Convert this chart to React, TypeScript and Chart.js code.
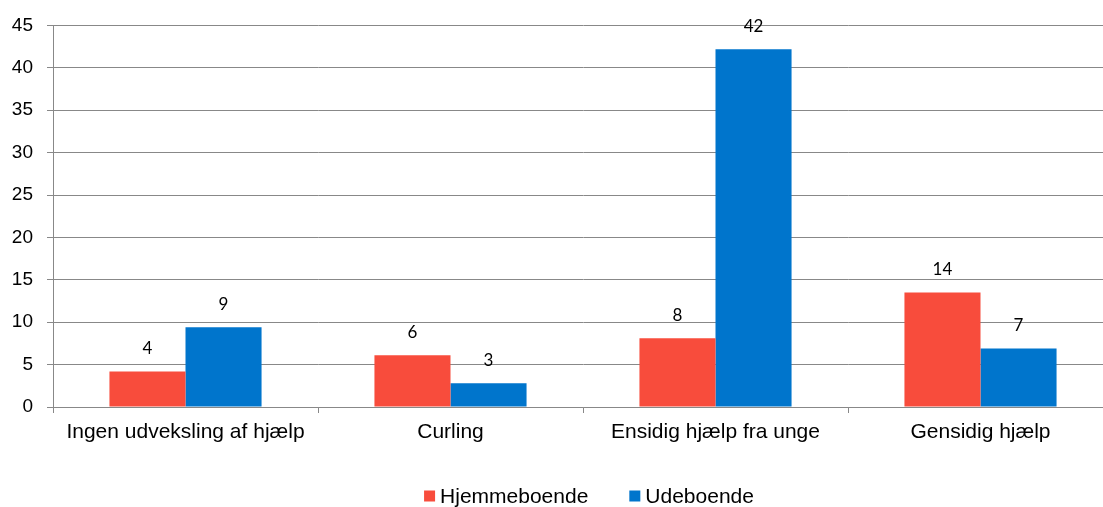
import React, { useEffect, useRef } from "react";
import { Chart, registerables } from "chart.js";

Chart.register(...registerables);

const categories = [
  "Ingen udveksling af hjælp",
  "Curling",
  "Ensidig hjælp fra unge",
  "Gensidig hjælp",
];
const seriesNames = ["Hjemmeboende", "Udeboende"];
const hjemmeboende = [4.2, 6.1, 8.1, 13.5];
const udeboende = [9.4, 2.8, 42.2, 6.9];
const seriesColors = ["#F84C3C", "#0075CC"];
const yMin = 0;
const yMax = 45;
const yStep = 5;

const CANVAS_W = 1113;
const CANVAS_H = 507;

const valueLabelPlugin = {
  id: "valueLabels",
  afterDatasetsDraw(chart: any) {
    const ctx = chart.ctx;
    ctx.save();
    ctx.font = "17px Lato, 'Open Sans', sans-serif";
    ctx.fillStyle = "#000";
    ctx.textAlign = "center";
    ctx.textBaseline = "middle";
    chart.data.datasets.forEach((ds: any, di: number) => {
      const meta = chart.getDatasetMeta(di);
      meta.data.forEach((bar: any, i: number) => {
        const v = ds.data[i];
        ctx.fillText(String(Math.round(v)), bar.x, bar.y - 23);
      });
    });
    ctx.restore();
  },
};

const legendPlugin = {
  id: "customLegend",
  afterDraw(chart: any) {
    const ctx = chart.ctx;
    ctx.save();
    ctx.font = "21px 'Liberation Sans', Arial, sans-serif";
    ctx.textBaseline = "middle";
    ctx.textAlign = "left";
    const box = 11;
    const gapBoxText = 5;
    const gapItems = 41;
    const items = chart.data.datasets.map((ds: any) => ({
      label: ds.label,
      color: ds.backgroundColor,
      w: ctx.measureText(ds.label).width,
    }));
    const total =
      items.reduce((s: number, it: any) => s + box + gapBoxText + it.w, 0) +
      gapItems * (items.length - 1);
    const cx = (chart.chartArea.left + chart.chartArea.right) / 2 + 6;
    let x = cx - total / 2;
    const y = 496;
    items.forEach((it: any) => {
      ctx.fillStyle = it.color;
      ctx.fillRect(x, y - box / 2, box, box);
      x += box + gapBoxText;
      ctx.fillStyle = "#000";
      ctx.fillText(it.label, x, y + 1);
      x += it.w + gapItems;
    });
    ctx.restore();
  },
};

export default function App() {
  const ref = useRef<HTMLCanvasElement>(null);

  useEffect(() => {
    if (!ref.current) return;
    const chart = new Chart(ref.current, {
      type: "bar",
      data: {
        labels: categories,
        datasets: [
          {
            label: seriesNames[0],
            data: hjemmeboende,
            backgroundColor: seriesColors[0],
            categoryPercentage: 0.574,
            barPercentage: 1,
          },
          {
            label: seriesNames[1],
            data: udeboende,
            backgroundColor: seriesColors[1],
            categoryPercentage: 0.574,
            barPercentage: 1,
          },
        ],
      },
      options: {
        responsive: false,
        animation: false,
        layout: { padding: { top: 24, left: 0, right: 0, bottom: 0 } },
        plugins: {
          legend: { display: false },
          tooltip: { enabled: false },
        },
        scales: {
          x: {
            grid: {
              display: true,
              drawOnChartArea: false,
              drawTicks: true,
              tickLength: 6,
              color: "#888888",
              offset: true,
            },
            border: { display: true, color: "#888888", width: 1 },
            ticks: {
              color: "#000",
              font: { family: "'Liberation Sans', Arial, sans-serif", size: 21 },
              padding: 7,
              maxRotation: 0,
              autoSkip: false,
            },
            afterFit: (s: any) => {
              s.height = 100;
            },
          },
          y: {
            min: yMin,
            max: yMax,
            grid: {
              color: "#888888",
              lineWidth: 1,
              tickLength: 6,
              drawTicks: true,
            },
            border: { display: true, color: "#888888", width: 1 },
            ticks: {
              stepSize: yStep,
              color: "#000",
              font: { family: "'Liberation Sans', Arial, sans-serif", size: 19 },
              padding: 14,
            },
            afterFit: (s: any) => {
              s.width = 53;
            },
          },
        },
      },
      plugins: [valueLabelPlugin, legendPlugin],
    });
    return () => chart.destroy();
  }, []);

  return (
    <div
      style={{
        position: "fixed",
        left: 0,
        top: 0,
        width: 1103,
        height: 507,
        overflow: "hidden",
        background: "#fff",
      }}
    >
      <canvas
        ref={ref}
        width={CANVAS_W}
        height={CANVAS_H}
        style={{ width: CANVAS_W, height: CANVAS_H, display: "block" }}
      />
    </div>
  );
}
